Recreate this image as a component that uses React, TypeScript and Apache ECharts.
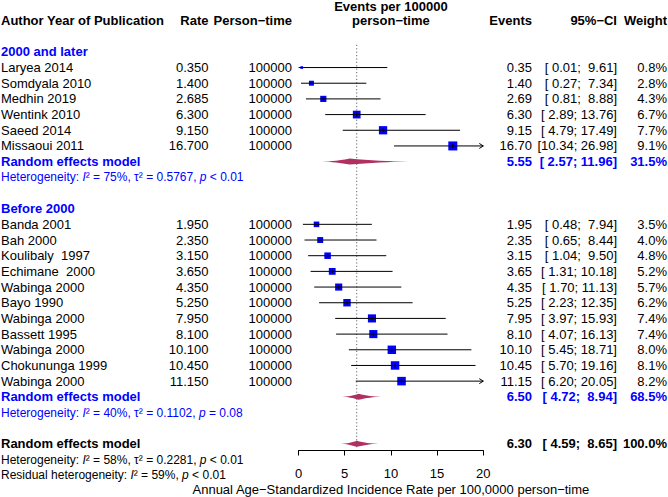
import React, { useEffect, useRef } from "react";
import * as echarts from "echarts";

// ---------- data ----------
const studyNames = [
  "Laryea 2014", "Somdyala 2010", "Medhin 2019", "Wentink 2010", "Saeed 2014", "Missaoui 2011",
  "Banda 2001", "Bah 2000", "Koulibaly  1997", "Echimane  2000", "Wabinga 2000", "Bayo 1990",
  "Wabinga 2000", "Bassett 1995", "Wabinga 2000", "Chokununga 1999", "Wabinga 2000",
];
const studyGroup = [0, 0, 0, 0, 0, 0, 1, 1, 1, 1, 1, 1, 1, 1, 1, 1, 1];
const studyRates = [0.35, 1.4, 2.685, 6.3, 9.15, 16.7, 1.95, 2.35, 3.15, 3.65, 4.35, 5.25, 7.95, 8.1, 10.1, 10.45, 11.15];
const personTime = [100000, 100000, 100000, 100000, 100000, 100000, 100000, 100000, 100000, 100000, 100000, 100000, 100000, 100000, 100000, 100000, 100000];
const ciLower = [0.01, 0.27, 0.81, 2.89, 4.79, 10.34, 0.48, 0.65, 1.04, 1.31, 1.7, 2.23, 3.97, 4.07, 5.45, 5.7, 6.2];
const ciUpper = [9.61, 7.34, 8.88, 13.76, 17.49, 26.98, 7.94, 8.44, 9.5, 10.18, 11.13, 12.35, 15.93, 16.13, 18.71, 19.16, 20.05];
const studyWeights = [0.8, 2.8, 4.3, 6.7, 7.7, 9.1, 3.5, 4.0, 4.8, 5.2, 5.7, 6.2, 7.4, 7.4, 8.0, 8.1, 8.2];

const groupLabels = ["2000 and later", "Before 2000"];
const groupEst = [5.55, 6.5];
const groupLower = [2.57, 4.72];
const groupUpper = [11.96, 8.94];
const groupWeights = [31.5, 68.5];
const groupI2 = [75, 40];
const groupTau2 = ["0.5767", "0.1102"];
const groupP = ["< 0.01", "= 0.08"];

const overallEst = 6.3;
const overallLower = 4.59;
const overallUpper = 8.65;
const overallWeight = 100.0;
const overallI2 = 58;
const overallTau2 = "0.2281";
const overallP = "< 0.01";
const residualI2 = 59;
const residualP = "< 0.01";

const xMin = 0;
const xMax = 20;
const xInterval = 5;
const xAxisTitle = "Annual Age\u2212Standardized Incidence Rate per 100,0000 person\u2212time";
const headerCells = ["Author Year of Publication", "Rate", "Person\u2212time", "Events", "95%\u2212CI", "Weight"];
const plotHeader = ["Events per 100000", "person\u2212time"];
const pooledLabel = "Random effects model";

// ---------- layout / styles ----------
const FONT = '"Liberation Sans", Arial, Helvetica, sans-serif';
const BLUE = "#0000FF";
const DIAMOND = "#B03060";
const ROW_H = 15.68;
const ROW0 = 20.5;
const COLX = { name: 1, rate: 208.5, pt: 292, ev: 532, ci: 617, w: 667 };

const fmt2 = (v: number) => (Math.round(v * 100 + 1e-6) / 100).toFixed(2);
const fmtCI = (lo: number, hi: number) => `[${fmt2(lo).padStart(5, " ")}; ${fmt2(hi).padStart(5, " ")}]`;

type Cell = { text: string; x: number; align: "left" | "right" | "center"; center?: boolean };
type TextRow = { row: number; size: number; bold: boolean; color: string; cells: Cell[]; rich?: boolean };

const textRows: TextRow[] = [];
const studyRows: number[] = [];
const pooledRows: number[] = [];

textRows.push({ row: -0.9, size: 13, bold: true, color: "#000", cells: [{ text: plotHeader[0], x: 0, align: "center", center: true }] });
textRows.push({
  row: 0, size: 13, bold: true, color: "#000",
  cells: [
    { text: headerCells[0], x: COLX.name, align: "left" },
    { text: headerCells[1], x: COLX.rate, align: "right" },
    { text: headerCells[2], x: COLX.pt, align: "right" },
    { text: plotHeader[1], x: 0, align: "center", center: true },
    { text: headerCells[3], x: COLX.ev, align: "right" },
    { text: headerCells[4], x: COLX.ci, align: "right" },
    { text: headerCells[5], x: COLX.w, align: "right" },
  ],
});

const hetRich = (i2: number, tau: string | null, p: string, label: string) =>
  `{n|${label}: }{i|I}{n|² = ${i2}%, ${tau !== null ? `τ² = ${tau}, ` : ""}}{i|p}{n| ${p}}`;

let r = 2;
for (let g = 0; g < groupLabels.length; g++) {
  textRows.push({ row: r, size: 13, bold: true, color: BLUE, cells: [{ text: groupLabels[g], x: COLX.name, align: "left" }] });
  r++;
  for (let i = 0; i < studyNames.length; i++) {
    if (studyGroup[i] !== g) continue;
    studyRows[i] = r;
    textRows.push({
      row: r, size: 13, bold: false, color: "#000",
      cells: [
        { text: studyNames[i], x: COLX.name, align: "left" },
        { text: studyRates[i].toFixed(3), x: COLX.rate, align: "right" },
        { text: String(personTime[i]), x: COLX.pt, align: "right" },
        { text: fmt2(studyRates[i]), x: COLX.ev, align: "right" },
        { text: fmtCI(ciLower[i], ciUpper[i]), x: COLX.ci, align: "right" },
        { text: studyWeights[i].toFixed(1) + "%", x: COLX.w, align: "right" },
      ],
    });
    r++;
  }
  pooledRows[g] = r;
  textRows.push({
    row: r, size: 13, bold: true, color: BLUE,
    cells: [
      { text: pooledLabel, x: COLX.name, align: "left" },
      { text: fmt2(groupEst[g]), x: COLX.ev, align: "right" },
      { text: fmtCI(groupLower[g], groupUpper[g]), x: COLX.ci, align: "right" },
      { text: groupWeights[g].toFixed(1) + "%", x: COLX.w, align: "right" },
    ],
  });
  r++;
  textRows.push({ row: r, size: 12, bold: false, color: BLUE, rich: true, cells: [{ text: hetRich(groupI2[g], groupTau2[g], groupP[g], "Heterogeneity"), x: COLX.name, align: "left" }] });
  r += 2;
}
const overallRow = r;
textRows.push({
  row: r, size: 13, bold: true, color: "#000",
  cells: [
    { text: pooledLabel, x: COLX.name, align: "left" },
    { text: fmt2(overallEst), x: COLX.ev, align: "right" },
    { text: fmtCI(overallLower, overallUpper), x: COLX.ci, align: "right" },
    { text: overallWeight.toFixed(1) + "%", x: COLX.w, align: "right" },
  ],
});
textRows.push({ row: r + 1, size: 12, bold: false, color: "#000", rich: true, cells: [{ text: hetRich(overallI2, overallTau2, overallP, "Heterogeneity"), x: COLX.name, align: "left" }] });
textRows.push({ row: r + 2, size: 12, bold: false, color: "#000", rich: true, cells: [{ text: hetRich(residualI2, null, residualP, "Residual heterogeneity"), x: COLX.name, align: "left" }] });

const maxW = Math.max(...studyWeights);

function diamondPoints(xl: number, xc: number, xr: number, y: number, h: number) {
  const pts: number[][] = [];
  const steps = 8;
  const f = (t: number) => Math.pow(t, 1.8);
  for (let k = 0; k <= steps; k++) {
    const t = k / steps;
    pts.push([xl + (xc - xl) * t, y - h * f(t)]);
  }
  for (let k = steps - 1; k >= 0; k--) {
    const t = k / steps;
    pts.push([xr - (xr - xc) * t, y - h * f(t)]);
  }
  for (let k = 1; k <= steps; k++) {
    const t = k / steps;
    pts.push([xr - (xr - xc) * t, y + h * f(t)]);
  }
  for (let k = steps - 1; k > 0; k--) {
    const t = k / steps;
    pts.push([xl + (xc - xl) * t, y + h * f(t)]);
  }
  return pts;
}

export default function App() {
  const ref = useRef<HTMLDivElement>(null);
  useEffect(() => {
    const chart = echarts.init(ref.current!, null, { renderer: "svg" });
    const option: any = {
      animation: false,
      backgroundColor: "#fff",
      grid: [
        { left: 298.5, right: 184.7, top: ROW0 - ROW_H, height: ROW_H * 30 },
        { left: 298.5, right: 184.7, top: 420, bottom: 46.5 },
      ],
      xAxis: [
        { gridIndex: 0, type: "value", min: xMin, max: xMax, show: false },
        {
          gridIndex: 1, type: "value", min: xMin, max: xMax, interval: xInterval, position: "bottom",
          axisLine: { show: true, onZero: false, lineStyle: { color: "#000", width: 1 } },
          axisTick: { show: true, length: 5, lineStyle: { color: "#000", width: 1 } },
          axisLabel: { color: "#000", fontSize: 13, fontFamily: FONT, margin: 16, showMinLabel: true, showMaxLabel: true },
          splitLine: { show: false },
          name: xAxisTitle, nameLocation: "middle", nameGap: 32,
          nameTextStyle: { color: "#000", fontSize: 13, fontFamily: FONT },
        },
      ],
      yAxis: [
        { gridIndex: 0, type: "value", min: -1, max: 29, inverse: true, show: false },
        { gridIndex: 1, type: "value", min: 0, max: 1, show: false },
      ],
      series: [
        {
          type: "custom", xAxisIndex: 0, yAxisIndex: 0, z: 1,
          data: [[overallEst, overallRow]],
          renderItem: (params: any, api: any) => {
            const a = api.coord([api.value(0), 1.55]);
            const b = api.coord([api.value(0), overallRow + 0.3]);
            return {
              type: "line",
              shape: { x1: a[0], y1: a[1], x2: b[0], y2: b[1] },
              style: { stroke: "#666", lineWidth: 1, lineDash: [1.2, 2.2] },
            };
          },
        },
        {
          type: "custom", xAxisIndex: 0, yAxisIndex: 0, z: 3,
          data: studyNames.map((_, i) => [studyRates[i], studyRows[i], ciLower[i], ciUpper[i], studyWeights[i]]),
          renderItem: (params: any, api: any) => {
            const est = api.value(0), row = api.value(1), lo = api.value(2), hi = api.value(3), w = api.value(4);
            const p = api.coord([est, row]);
            const pl = api.coord([Math.max(lo, xMin), row]);
            const ph = api.coord([Math.min(hi, xMax), row]);
            const side = 9 * Math.sqrt(w / maxW);
            const children: any[] = [
              { type: "rect", shape: { x: p[0] - side / 2, y: p[1] - side / 2, width: side, height: side }, style: { fill: BLUE } },
              { type: "line", shape: { x1: pl[0], y1: p[1], x2: ph[0], y2: p[1] }, style: { stroke: "#000", lineWidth: 1 } },
            ];
            if (side >= 6) {
              children.push({ type: "line", shape: { x1: p[0], y1: p[1] - side * 0.25, x2: p[0], y2: p[1] + side * 0.25 }, style: { stroke: "#000", lineWidth: 1 } });
            }
            if (hi > xMax) {
              children.push({
                type: "polyline",
                shape: { points: [[ph[0] - 4, p[1] - 2.5], [ph[0], p[1]], [ph[0] - 4, p[1] + 2.5]] },
                style: { stroke: "#000", lineWidth: 1, fill: null },
              });
            }
            return { type: "group", children };
          },
        },
        {
          type: "custom", xAxisIndex: 0, yAxisIndex: 0, z: 2,
          data: [
            [groupEst[0], pooledRows[0], groupLower[0], groupUpper[0]],
            [groupEst[1], pooledRows[1], groupLower[1], groupUpper[1]],
            [overallEst, overallRow, overallLower, overallUpper],
          ],
          renderItem: (params: any, api: any) => {
            const row = api.value(1);
            const c = api.coord([api.value(0), row]);
            const l = api.coord([api.value(2), row]);
            const h = api.coord([api.value(3), row]);
            return {
              type: "polygon",
              shape: { points: diamondPoints(l[0], c[0], h[0], c[1], 3) },
              style: { fill: DIAMOND, stroke: null },
            };
          },
        },
        {
          type: "custom", xAxisIndex: 0, yAxisIndex: 0, z: 4,
          data: textRows.map((t) => [0, t.row]),
          renderItem: (params: any, api: any) => {
            const tr = textRows[params.dataIndex];
            const y = api.coord([0, api.value(1)])[1];
            const xc = api.coord([(xMin + xMax) / 2, 0])[0];
            const font = `${tr.bold ? "bold " : ""}${tr.size}px ${FONT}`;
            return {
              type: "group",
              children: tr.cells.map((c) => {
                const style: any = {
                  text: c.text, fill: tr.color, font, align: c.align, verticalAlign: "middle",
                };
                if (tr.rich) {
                  style.rich = {
                    n: { fill: tr.color, fontSize: tr.size, fontFamily: FONT },
                    i: { fill: tr.color, fontSize: tr.size, fontFamily: FONT, fontStyle: "italic" },
                  };
                }
                return { type: "text", x: c.center ? xc : c.x, y, style };
              }),
            };
          },
        },
      ],
    };
    chart.setOption(option);
    return () => chart.dispose();
  }, []);
  return <div ref={ref} style={{ position: "fixed", left: 0, top: 0, width: 668, height: 497, background: "#fff" }} />;
}
